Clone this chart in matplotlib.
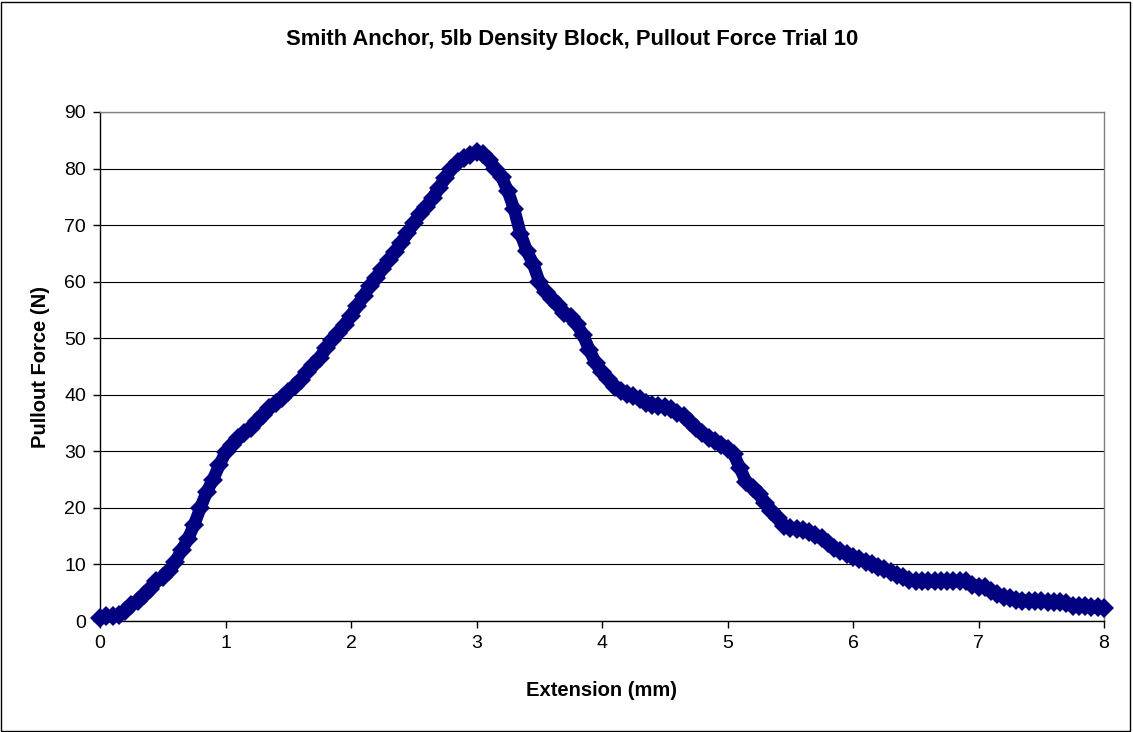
import matplotlib
matplotlib.use("Agg")
import matplotlib.pyplot as plt
from matplotlib.patches import Rectangle

# extension (mm) and pullout force (N)
extension = [
    0.00, 0.05, 0.10, 0.15, 0.20, 0.25, 0.30, 0.35, 0.40, 0.45,
    0.50, 0.55, 0.60, 0.65, 0.70, 0.75, 0.80, 0.85, 0.90, 0.95,
    1.00, 1.05, 1.10, 1.15, 1.20, 1.25, 1.30, 1.35, 1.40, 1.45,
    1.50, 1.55, 1.60, 1.65, 1.70, 1.75, 1.80, 1.85, 1.90, 1.95,
    2.00, 2.05, 2.10, 2.15, 2.20, 2.25, 2.30, 2.35, 2.40, 2.45,
    2.50, 2.55, 2.60, 2.65, 2.70, 2.75, 2.80, 2.85, 2.90, 2.95,
    3.00, 3.05, 3.10, 3.15, 3.20, 3.25, 3.30, 3.35, 3.40, 3.45,
    3.50, 3.55, 3.60, 3.65, 3.70, 3.75, 3.80, 3.85, 3.90, 3.95,
    4.00, 4.05, 4.10, 4.15, 4.20, 4.25, 4.30, 4.35, 4.40, 4.45,
    4.50, 4.55, 4.60, 4.65, 4.70, 4.75, 4.80, 4.85, 4.90, 4.95,
    5.00, 5.05, 5.10, 5.15, 5.20, 5.25, 5.30, 5.35, 5.40, 5.45,
    5.50, 5.55, 5.60, 5.65, 5.70, 5.75, 5.80, 5.85, 5.90, 5.95,
    6.00, 6.05, 6.10, 6.15, 6.20, 6.25, 6.30, 6.35, 6.40, 6.45,
    6.50, 6.55, 6.60, 6.65, 6.70, 6.75, 6.80, 6.85, 6.90, 6.95,
    7.00, 7.05, 7.10, 7.15, 7.20, 7.25, 7.30, 7.35, 7.40, 7.45,
    7.50, 7.55, 7.60, 7.65, 7.70, 7.75, 7.80, 7.85, 7.90, 7.95,
    8.00,
]
force = [
    0.5, 0.8, 0.9, 1.0, 1.8, 2.8, 3.6, 4.6, 5.6, 7.0,
    7.8, 8.8, 10.5, 12.5, 14.5, 17.0, 20.0, 22.8, 25.0, 27.5,
    29.8, 31.2, 32.3, 33.2, 34.2, 35.4, 36.5, 37.6, 38.6, 39.5,
    40.5, 41.5, 42.6, 44.0, 45.3, 46.5, 48.2, 49.7, 51.0, 52.4,
    54.0, 55.7, 57.5, 59.2, 60.6, 62.3, 63.8, 65.3, 66.8, 68.6,
    70.3, 72.0, 73.2, 74.8, 76.5, 78.3, 80.0, 81.2, 81.9, 82.4,
    82.9, 82.6, 81.5, 80.0, 78.5, 76.0, 72.8, 68.5, 65.5, 63.2,
    60.0, 58.2, 57.0, 55.8, 54.5, 53.8, 52.5, 50.5, 47.9, 45.6,
    44.0, 42.8, 41.4, 40.6, 40.2, 39.8, 39.2, 38.5, 38.2, 38.0,
    37.8, 37.4, 36.8, 36.2, 35.2, 34.2, 33.3, 32.4, 31.8, 31.2,
    30.4, 29.5, 27.0, 24.5, 23.5, 22.5, 20.8, 19.5, 18.2, 16.8,
    16.5, 16.3, 16.1, 15.8, 15.2, 14.6, 13.8, 12.9, 12.3, 11.8,
    11.4, 11.0, 10.5, 10.0, 9.6, 9.2, 8.7, 8.2, 7.7, 7.3,
    7.1, 7.0, 7.0, 7.0, 7.0, 7.0, 7.0, 7.1, 7.1, 6.4,
    6.1, 6.0, 5.3, 4.7, 4.3, 4.0, 3.8, 3.6, 3.5, 3.5,
    3.5, 3.4, 3.4, 3.4, 3.2, 2.7, 2.6, 2.6, 2.5, 2.4,
    2.3,
]

x_ticks = [0, 1, 2, 3, 4, 5, 6, 7, 8]
y_ticks = [0, 10, 20, 30, 40, 50, 60, 70, 80, 90]

plt.rcParams["font.family"] = ["Liberation Sans", "DejaVu Sans"]

fig = plt.figure(figsize=(11.33, 7.32), dpi=100)
ax = fig.add_axes([100 / 1133, 111 / 732, 1004 / 1133, 509 / 732])

navy = "#000080"
ax.plot(extension, force, color=navy, lw=9, solid_joinstyle="round",
        solid_capstyle="round", marker="D", markersize=10,
        markeredgewidth=0, clip_on=False, zorder=3)

ax.set_xlim(0, 8)
ax.set_ylim(0, 90)
ax.set_xticks(x_ticks)
ax.set_yticks(y_ticks)
ax.yaxis.grid(True, color="black", lw=0.8)
ax.set_axisbelow(True)

for side in ["top", "right"]:
    ax.spines[side].set_color("#808080")
for side in ["left", "bottom"]:
    ax.spines[side].set_color("black")
for s in ax.spines.values():
    s.set_linewidth(1)

ax.tick_params(direction="out", length=5, width=1, labelsize=14, pad=5)

# chart title, centred on the whole chart area like Excel does
fig.text(572 / 1133, 1 - 40 / 732,
         "Smith Anchor, 5lb Density Block, Pullout Force Trial 10",
         fontsize=15.8, fontweight="bold", ha="center", va="center")
ax.set_xlabel("Extension (mm)", fontsize=14.5, fontweight="bold", labelpad=21)
ax.set_ylabel("Pullout Force (N)", fontsize=14.5, fontweight="bold", labelpad=10)

# outer chart border
fig.patches.append(Rectangle((1 / 1133, 1 / 732), 1129 / 1133, 729 / 732,
                             transform=fig.transFigure, fill=False,
                             edgecolor="black", lw=1))

fig.savefig("out.png", dpi=100)
